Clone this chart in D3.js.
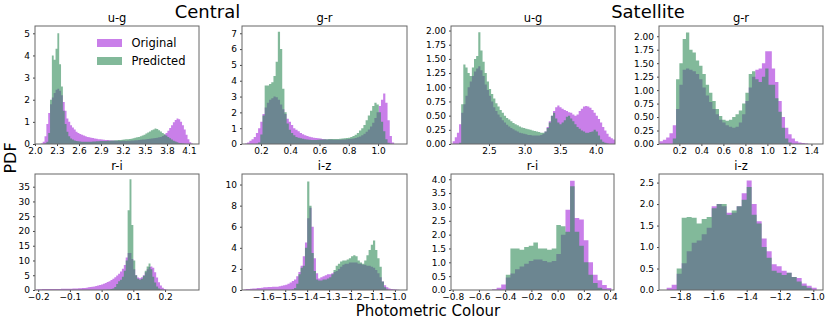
<!DOCTYPE html>
<html lang="en">
<head>
<meta charset="UTF-8">
<title>Photometric colour PDFs</title>
<script src="https://d3js.org/d3.v7.min.js"></script>
<style>
    body { margin: 0; background: #fff; }
    svg { display: block; font-family: "DejaVu Sans", sans-serif; }
    .tick text { font-family: "DejaVu Sans", sans-serif; font-size: 9px; fill: #000; }
    .tick line { stroke: #444; }
</style>
</head>
<body>
<svg id="chart" width="831" height="322"></svg>
<script>
    const panelTitles = ["u-g", "g-r", "u-g", "g-r", "r-i", "i-z", "r-i", "i-z"];
    const seriesNames = ["Original", "Predicted"];

    // Central u-g
    const cUgStart = 2.08, cUgWidth = 0.025;
    const cUgOriginal = [0.02,0.1,0.35,0.9,1.4,1.8,2.1,2.3,2.45,2.5,
        2.4,2.2,1.9,1.5,1.15,1.0,0.85,0.75,0.65,0.55,
        0.5,0.45,0.42,0.38,0.35,0.32,0.3,0.28,0.27,0.25,
        0.24,0.22,0.21,0.2,0.19,0.18,0.18,0.17,0.16,0.16,
        0.15,0.15,0.15,0.14,0.15,0.15,0.14,0.15,0.15,0.16,
        0.16,0.17,0.17,0.18,0.19,0.2,0.2,0.22,0.23,0.24,
        0.25,0.26,0.27,0.28,0.3,0.32,0.36,0.42,0.5,0.6,
        0.72,0.85,0.98,1.08,1.15,1.12,1.0,0.85,0.65,0.42,
        0.22,0.08,0.02];
    const cUgPredicted = [0,0,0.02,0.1,0.5,2.0,4.0,3.8,4.3,5.0,
        3.6,2.6,1.5,0.9,0.55,0.35,0.25,0.2,0.16,0.14,
        0.12,0.11,0.1,0.1,0.1,0.1,0.1,0.1,0.11,0.11,
        0.12,0.12,0.13,0.13,0.14,0.14,0.15,0.15,0.16,0.16,
        0.17,0.17,0.18,0.18,0.19,0.2,0.21,0.22,0.23,0.24,
        0.26,0.28,0.3,0.32,0.35,0.38,0.42,0.47,0.52,0.57,
        0.62,0.66,0.7,0.68,0.62,0.56,0.5,0.44,0.38,0.32,
        0.26,0.2,0.15,0.11,0.08,0.05,0.03,0.02,0.01,0,
        0,0,0];
    const cUgXTicks = [2.0, 2.3, 2.6, 2.9, 3.2, 3.5, 3.8, 4.1];
    const cUgYTicks = [0, 1, 2, 3, 4, 5];

    // Central g-r
    const cGrStart = 0.09, cGrWidth = 0.015;
    const cGrOriginal = [0.03,0.1,0.2,0.3,0.45,0.7,1.0,1.4,1.9,2.3,
        2.6,2.8,2.9,3.0,2.95,2.8,2.5,2.2,1.9,1.6,
        1.4,1.2,1.0,0.9,0.8,0.7,0.62,0.55,0.5,0.46,
        0.42,0.4,0.38,0.36,0.34,0.32,0.3,0.29,0.28,0.28,
        0.27,0.27,0.27,0.27,0.28,0.29,0.3,0.31,0.33,0.35,
        0.38,0.42,0.48,0.55,0.65,0.78,0.92,1.1,1.35,1.65,
        2.0,2.4,2.8,3.2,2.6,1.5,0.5,0.1];
    const cGrPredicted = [0,0,0,0,0,0.02,0.1,0.6,1.8,3.7,
        3.7,3.8,3.9,4.3,5.2,7.1,6.0,3.5,2.0,1.3,
        0.9,0.7,0.55,0.45,0.4,0.36,0.33,0.3,0.28,0.27,
        0.26,0.26,0.26,0.27,0.28,0.29,0.3,0.3,0.31,0.31,
        0.31,0.32,0.32,0.33,0.34,0.36,0.38,0.4,0.44,0.5,
        0.58,0.7,0.85,1.0,1.2,1.5,1.8,2.1,2.4,2.6,
        2.5,2.0,1.4,0.8,0.3,0.08,0.02,0];
    const cGrXTicks = [0.2, 0.4, 0.6, 0.8, 1.0];
    const cGrYTicks = [0, 1, 2, 3, 4, 5, 6, 7];

    // Satellite u-g
    const sUgStart = 1.99, sUgWidth = 0.03;
    const sUgOriginal = [0.05,0.12,0.2,0.35,0.55,0.7,0.85,1.0,1.1,1.2,
        1.28,1.33,1.37,1.3,1.2,1.05,0.95,0.85,0.75,0.65,
        0.58,0.52,0.47,0.42,0.38,0.34,0.31,0.28,0.26,0.24,
        0.22,0.2,0.19,0.18,0.17,0.16,0.16,0.15,0.15,0.15,
        0.15,0.16,0.18,0.22,0.3,0.4,0.5,0.58,0.65,0.68,
        0.65,0.62,0.6,0.58,0.56,0.55,0.52,0.5,0.52,0.58,
        0.62,0.66,0.67,0.66,0.64,0.6,0.55,0.5,0.44,0.38,
        0.3,0.24,0.18,0.13,0.1,0.08];
    const sUgPredicted = [0,0,0,0.02,0.7,1.4,1.35,1.25,1.2,1.35,
        1.5,1.55,1.97,1.65,1.45,1.25,1.1,0.97,0.88,0.8,
        0.72,0.66,0.6,0.55,0.5,0.46,0.43,0.4,0.37,0.35,
        0.33,0.31,0.29,0.28,0.27,0.26,0.25,0.24,0.23,0.22,
        0.21,0.2,0.2,0.22,0.28,0.38,0.5,0.55,0.45,0.38,
        0.35,0.38,0.42,0.48,0.5,0.45,0.4,0.35,0.3,0.27,
        0.24,0.22,0.2,0.2,0.21,0.22,0.25,0.22,0.15,0.08,
        0.04,0.02,0.01,0,0,0];
    const sUgXTicks = [2.5, 3.0, 3.5, 4.0];
    const sUgYTicks = [0, 0.25, 0.5, 0.75, 1.0, 1.25, 1.5, 1.75, 2.0];

    // Satellite g-r
    const sGrStart = 0.02, sGrWidth = 0.03;
    const sGrOriginal = [0.05,0.08,0.12,0.2,0.35,0.65,1.1,1.38,1.4,1.38,
        1.35,1.3,1.2,1.05,0.9,0.78,0.65,0.55,0.45,0.4,
        0.35,0.32,0.3,0.32,0.4,0.55,0.8,1.05,1.25,1.38,
        1.4,1.5,1.72,1.72,1.4,1.15,0.8,0.5,0.3,0.18,
        0.1,0.05,0.03,0.02,0.01,0];
    const sGrPredicted = [0,0,0,0,0.1,1.2,1.5,1.95,2.07,1.75,
        1.7,1.55,1.45,1.3,1.1,0.95,0.8,0.65,0.52,0.45,
        0.43,0.45,0.5,0.55,0.62,0.75,0.95,1.3,1.35,1.2,
        1.15,1.25,1.4,1.1,1.1,0.85,0.6,0.3,0.1,0.03,
        0,0,0,0,0,0];
    const sGrXTicks = [0.2, 0.4, 0.6, 0.8, 1.0, 1.2, 1.4];
    const sGrYTicks = [0, 0.25, 0.5, 0.75, 1.0, 1.25, 1.5, 1.75, 2.0];

    // Central r-i
    const cRiStart = -0.206, cRiWidth = 0.006;
    const cRiOriginal = [0.2,0.25,0.25,0.3,0.3,0.3,0.3,0.3,0.3,0.35,
        0.35,0.35,0.35,0.4,0.4,0.4,0.4,0.45,0.45,0.5,
        0.5,0.55,0.6,0.6,0.65,0.7,0.8,0.9,1.0,1.1,
        1.2,1.35,1.5,1.7,1.9,2.1,2.4,2.7,3.0,3.4,
        3.8,4.3,4.9,5.5,6.3,7.2,8.5,11.0,12.5,12.5,
        10.5,7.0,5.0,4.2,4.0,4.3,5.0,6.0,7.0,7.8,
        8.0,7.5,6.0,4.2,2.6,1.5,0.8,0.3,0.1];
    const cRiPredicted = [0,0,0,0,0,0,0,0,0,0,
        0,0,0,0,0,0,0,0,0,0,
        0,0,0,0,0,0,0,0,0,0,
        0,0,0,0,0,0.05,0.1,0.15,0.2,0.3,
        0.5,1.0,2.0,3.0,3.5,4.5,6.5,10.0,27.0,37.5,
        22.0,10.0,5.0,3.8,3.5,3.8,4.8,6.5,8.0,9.0,
        7.0,4.5,2.5,1.2,0.5,0.2,0.05,0,0];
    const cRiXTicks = [-0.2, -0.1, 0.0, 0.1, 0.2];
    const cRiYTicks = [0, 5, 10, 15, 20, 25, 30, 35];

    // Central i-z
    const cIzStart = -1.69, cIzWidth = 0.01;
    const cIzOriginal = [0.05,0.1,0.1,0.12,0.15,0.15,0.18,0.2,0.22,0.25,
        0.25,0.28,0.28,0.3,0.3,0.32,0.35,0.4,0.45,0.5,
        0.6,0.7,0.85,1.0,1.3,1.7,2.3,3.2,4.5,6.8,
        7.8,6.0,3.0,1.6,1.1,1.2,1.3,1.4,1.5,1.5,
        1.6,1.7,1.8,2.0,2.2,2.4,2.5,2.5,2.6,2.6,
        2.6,2.6,2.5,2.5,2.4,2.4,2.3,2.3,2.2,2.1,
        1.9,1.6,1.2,0.8,0.45,0.25,0.15,0.1,0.06,0.04,0.02,0.01];
    const cIzPredicted = [0,0,0,0,0,0,0,0,0,0,
        0,0,0,0,0,0,0,0,0,0,
        0,0,0.05,0.2,0.6,1.5,2.1,2.3,4.0,10.3,
        8.0,3.5,1.8,1.0,0.9,0.9,1.0,1.0,1.1,1.2,
        1.5,1.9,2.3,2.5,2.7,2.8,2.8,2.9,3.0,3.2,
        3.3,3.2,2.8,2.6,2.5,2.8,3.3,3.8,4.3,4.7,
        3.8,3.0,2.2,0.8,0.25,0.05,0,0,0,0,0,0];
    const cIzXTicks = [-1.6, -1.5, -1.4, -1.3, -1.2, -1.1, -1.0];
    const cIzYTicks = [0, 2, 4, 6, 8, 10];

    // Satellite r-i
    const sRiStart = -0.5, sRiWidth = 0.035;
    const sRiOriginal = [0.03,0.08,0.2,0.45,0.6,0.75,0.85,0.95,1.05,1.1,
        1.1,1.05,1.0,1.05,1.3,2.0,2.9,3.95,2.6,2.55,
        1.8,1.0,0.55,0.35,0.18,0.07];
    const sRiPredicted = [0,0,0,0.55,1.5,1.5,1.45,1.55,1.6,1.72,
        1.5,1.5,1.45,1.5,2.35,2.3,2.1,3.75,2.1,1.6,
        1.0,0.55,0.25,0.08,0.02,0];
    const sRiXTicks = [-0.8, -0.6, -0.4, -0.2, 0.0, 0.2, 0.4];
    const sRiYTicks = [0, 0.5, 1.0, 1.5, 2.0, 2.5, 3.0, 3.5, 4.0];

    // Satellite i-z
    const sIzStart = -1.88, sIzWidth = 0.03;
    const sIzOriginal = [0.05,0.12,0.38,0.62,0.9,1.1,1.15,1.3,1.45,1.95,
        2.0,1.95,1.8,1.8,1.95,2.25,2.55,2.0,1.6,1.2,
        0.9,0.6,0.55,0.45,0.4,0.3,0.28,0.15,0.1,0.05];
    const sIzPredicted = [0,0,0.5,1.68,1.7,1.68,1.55,1.65,1.7,1.9,
        2.0,2.0,1.75,1.85,1.95,2.1,2.4,1.75,1.55,1.0,
        0.75,0.45,0.4,0.35,0.4,0.3,0.2,0.1,0.05,0];
    const sIzXTicks = [-1.8, -1.6, -1.4, -1.2, -1.0];
    const sIzYTicks = [0, 0.5, 1.0, 1.5, 2.0, 2.5];

    // layout: [left, top, right, bottom] of each axes box
    const panels = [
        { title: panelTitles[0], start: cUgStart, width: cUgWidth, orig: cUgOriginal, pred: cUgPredicted,
          xDomain: [2.0, 4.236], yDomain: [0, 5.33], xTicks: cUgXTicks, yTicks: cUgYTicks, xFmt: ".1f", yFmt: "d", box: [35, 26, 199, 144] },
        { title: panelTitles[1], start: cGrStart, width: cGrWidth, orig: cGrOriginal, pred: cGrPredicted,
          xDomain: [0.07, 1.198], yDomain: [0, 7.46], xTicks: cGrXTicks, yTicks: cGrYTicks, xFmt: ".1f", yFmt: "d", box: [242, 26, 407, 144] },
        { title: panelTitles[2], start: sUgStart, width: sUgWidth, orig: sUgOriginal, pred: sUgPredicted,
          xDomain: [1.967, 4.27], yDomain: [0, 2.08], xTicks: sUgXTicks, yTicks: sUgYTicks, xFmt: ".1f", yFmt: ".2f", box: [451, 26, 615, 144] },
        { title: panelTitles[3], start: sGrStart, width: sGrWidth, orig: sGrOriginal, pred: sGrPredicted,
          xDomain: [0.015, 1.505], yDomain: [0, 2.19], xTicks: sGrXTicks, yTicks: sGrYTicks, xFmt: ".1f", yFmt: ".2f", box: [659, 26, 823, 144] },
        { title: panelTitles[4], start: cRiStart, width: cRiWidth, orig: cRiOriginal, pred: cRiPredicted,
          xDomain: [-0.21, 0.307], yDomain: [0, 39.3], xTicks: cRiXTicks, yTicks: cRiYTicks, xFmt: ".1f", yFmt: "d", box: [35, 174, 199, 290] },
        { title: panelTitles[5], start: cIzStart, width: cIzWidth, orig: cIzOriginal, pred: cIzPredicted,
          xDomain: [-1.697, -0.945], yDomain: [0, 11.0], xTicks: cIzXTicks, yTicks: cIzYTicks, xFmt: ".1f", yFmt: "d", box: [242, 174, 407, 290] },
        { title: panelTitles[6], start: sRiStart, width: sRiWidth, orig: sRiOriginal, pred: sRiPredicted,
          xDomain: [-0.813, 0.43], yDomain: [0, 4.19], xTicks: sRiXTicks, yTicks: sRiYTicks, xFmt: ".1f", yFmt: ".1f", box: [451, 174, 614, 290] },
        { title: panelTitles[7], start: sIzStart, width: sIzWidth, orig: sIzOriginal, pred: sIzPredicted,
          xDomain: [-1.926, -0.942], yDomain: [0, 2.70], xTicks: sIzXTicks, yTicks: sIzYTicks, xFmt: ".1f", yFmt: ".1f", box: [659, 174, 823, 290] }
    ];

    const origColor = "#9400d3", origAlpha = 0.5;
    const predColor = "#2e8b57", predAlpha = 0.6;

    const svg = d3.select("#chart");

    panels.forEach(function (p, k) {
        const [left, top, right, bottom] = p.box;
        const x = d3.scaleLinear().domain(p.xDomain).range([left, right]);
        const y = d3.scaleLinear().domain(p.yDomain).range([bottom, top]);
        const g = svg.append("g");

        g.append("clipPath").attr("id", "clip" + k)
            .append("rect")
            .attr("x", left).attr("y", top)
            .attr("width", right - left).attr("height", bottom - top);

        // histogram as a step outline: one point per bin edge
        function steps(values) {
            const pts = values.map((v, i) => [p.start + i * p.width, v]);
            pts.push([p.start + values.length * p.width, values[values.length - 1]]);
            return pts;
        }

        const area = d3.area()
            .curve(d3.curveStepAfter)
            .x(d => x(d[0]))
            .y0(y(0))
            .y1(d => y(d[1]));

        const plot = g.append("g").attr("clip-path", "url(#clip" + k + ")");
        plot.append("path")
            .attr("d", area(steps(p.orig)))
            .attr("fill", origColor)
            .attr("fill-opacity", origAlpha);
        plot.append("path")
            .attr("d", area(steps(p.pred)))
            .attr("fill", predColor)
            .attr("fill-opacity", predAlpha);

        g.append("g")
            .attr("transform", `translate(0,${bottom})`)
            .call(d3.axisBottom(x).tickValues(p.xTicks).tickFormat(d3.format(p.xFmt)).tickSize(2).tickPadding(2))
            .call(a => a.select(".domain").remove());

        g.append("g")
            .attr("transform", `translate(${left},0)`)
            .call(d3.axisLeft(y).tickValues(p.yTicks).tickFormat(d3.format(p.yFmt)).tickSize(2).tickPadding(3))
            .call(a => a.select(".domain").remove());

        g.append("rect")
            .attr("x", left).attr("y", top)
            .attr("width", right - left).attr("height", bottom - top)
            .attr("fill", "none")
            .attr("stroke", "#666")
            .attr("stroke-width", 1);

        g.append("text")
            .attr("x", (left + right) / 2)
            .attr("y", top - 4.5)
            .attr("text-anchor", "middle")
            .attr("font-size", 11.5)
            .text(p.title);
    });

    // legend in the first panel
    const legend = svg.append("g");
    [origColor, predColor].forEach(function (c, i) {
        legend.append("rect")
            .attr("x", 97).attr("y", 39 + i * 18)
            .attr("width", 25).attr("height", 8)
            .attr("fill", c)
            .attr("fill-opacity", i === 0 ? origAlpha : predAlpha);
        legend.append("text")
            .attr("x", 131.5).attr("y", 47 + i * 18)
            .attr("font-size", 11.5)
            .text(seriesNames[i]);
    });

    svg.append("text")
        .attr("x", 207.5).attr("y", 18)
        .attr("text-anchor", "middle")
        .attr("font-size", 18)
        .text("Central");

    svg.append("text")
        .attr("x", 648).attr("y", 18)
        .attr("text-anchor", "middle")
        .attr("font-size", 18)
        .text("Satellite");

    svg.append("text")
        .attr("transform", "translate(16,158) rotate(-90)")
        .attr("text-anchor", "middle")
        .attr("font-size", 16)
        .text("PDF");

    svg.append("text")
        .attr("x", 428).attr("y", 316)
        .attr("text-anchor", "middle")
        .attr("font-size", 15)
        .text("Photometric Colour");
</script>
</body>
</html>
